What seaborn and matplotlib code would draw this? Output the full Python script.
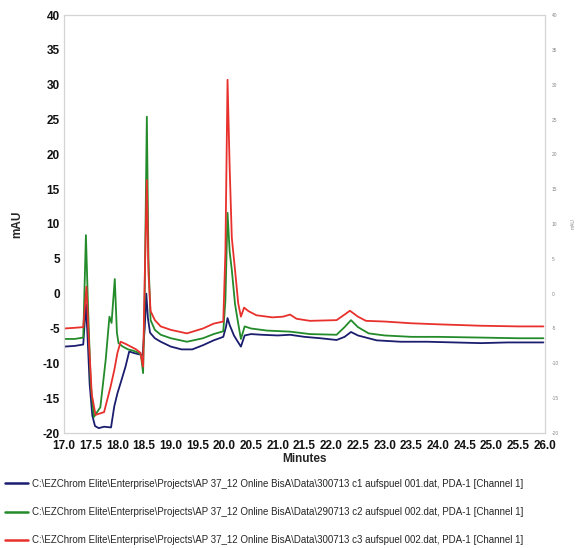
import numpy as np
import pandas as pd
import matplotlib
matplotlib.use('Agg')
import matplotlib.pyplot as plt
import seaborn as sns

# c1 (blue) trace
c1_t = [17.0, 17.2, 17.36, 17.41, 17.44, 17.48, 17.53, 17.58, 17.65, 17.75, 17.88, 17.94, 18.0, 18.06,
        18.15, 18.22, 18.3, 18.4, 18.47, 18.51, 18.54, 18.57, 18.61, 18.7, 18.81, 19.0, 19.2, 19.4,
        19.6, 19.8, 19.98, 20.03, 20.06, 20.1, 20.18, 20.26, 20.31, 20.38, 20.5, 20.7, 21.0, 21.23,
        21.5, 21.8, 22.1, 22.25, 22.37, 22.5, 22.85, 23.3, 23.8, 24.3, 24.8, 25.3, 25.97]
c1_v = [-7.6, -7.5, -7.3, -1.5, -6.0, -13.0, -17.5, -19.0, -19.3, -19.1, -19.2, -16.2, -14.3, -12.8,
        -10.5, -8.3, -8.5, -8.7, -8.8, -5.0, 0.0, -3.5, -5.6, -6.4, -6.9, -7.6, -8.0, -8.0,
        -7.4, -6.7, -6.2, -4.8, -3.5, -4.5, -6.0, -7.0, -7.6, -6.0, -5.8, -5.9, -6.0, -5.9,
        -6.2, -6.4, -6.65, -6.2, -5.5, -6.0, -6.7, -6.9, -6.9, -7.0, -7.1, -7.0, -7.0]

# c2 (green) trace
c2_t = [17.0, 17.2, 17.36, 17.41, 17.45, 17.5, 17.56, 17.68, 17.78, 17.85, 17.89, 17.95, 17.99,
        18.02, 18.1, 18.2, 18.3, 18.4, 18.44, 18.48, 18.51, 18.55, 18.58, 18.62, 18.7, 18.81, 19.0,
        19.3, 19.6, 19.8, 19.98, 20.02, 20.06, 20.1, 20.14, 20.2, 20.26, 20.31, 20.38, 20.5, 20.8,
        21.23, 21.6, 22.1, 22.25, 22.37, 22.5, 22.7, 23.0, 23.5, 24.0, 24.78, 25.5, 25.97]
c2_v = [-6.5, -6.5, -6.3, 8.4, -2.0, -13.0, -17.7, -16.3, -9.5, -3.3, -4.2, 2.1, -5.6,
        -7.1, -7.6, -8.0, -8.2, -8.5, -8.8, -11.4, 0.0, 25.4, 5.0, -3.8, -5.2, -5.9, -6.4,
        -6.9, -6.4, -5.8, -5.4, -1.0, 11.6, 6.0, 3.4, -1.5, -4.3, -6.5, -4.7, -5.0, -5.3,
        -5.45, -5.8, -5.9, -4.8, -3.8, -4.8, -5.7, -6.0, -6.2, -6.2, -6.3, -6.4, -6.4]

# c3 (red) trace
c3_t = [17.0, 17.2, 17.36, 17.42, 17.46, 17.52, 17.59, 17.75, 17.87, 17.94, 18.0, 18.06, 18.15,
        18.25, 18.35, 18.43, 18.48, 18.51, 18.55, 18.58, 18.62, 18.7, 18.81, 19.0, 19.3, 19.6,
        19.8, 19.98, 20.02, 20.06, 20.1, 20.14, 20.2, 20.26, 20.31, 20.37, 20.45, 20.6, 20.9,
        21.1, 21.23, 21.35, 21.6, 22.1, 22.25, 22.35, 22.5, 22.65, 23.0, 23.5, 24.0, 24.78,
        25.5, 25.97]
c3_v = [-5.0, -4.9, -4.8, 1.0, -6.0, -14.5, -17.4, -17.0, -13.4, -11.0, -8.5, -6.9, -7.2,
        -7.6, -8.0, -8.5, -10.5, 2.0, 16.3, 3.0, -2.5, -3.8, -4.7, -5.2, -5.7, -5.0,
        -4.3, -4.0, 6.0, 30.7, 18.0, 8.0, 3.4, -1.4, -3.3, -2.0, -2.5, -3.1, -3.4,
        -3.3, -3.0, -3.6, -3.9, -3.8, -3.0, -2.45, -3.3, -3.9, -4.0, -4.25, -4.4, -4.6,
        -4.7, -4.7]

labels = [
    r'C:\EZChrom Elite\Enterprise\Projects\AP 37_12 Online BisA\Data\300713 c1 aufspuel 001.dat, PDA-1 [Channel 1]',
    r'C:\EZChrom Elite\Enterprise\Projects\AP 37_12 Online BisA\Data\290713 c2 aufspuel 002.dat, PDA-1 [Channel 1]',
    r'C:\EZChrom Elite\Enterprise\Projects\AP 37_12 Online BisA\Data\300713 c3 aufspuel 002.dat, PDA-1 [Channel 1]',
]
colors = ['#1b1d6e', '#238b2a', '#e8302c']

x_ticks = [17.0, 17.5, 18.0, 18.5, 19.0, 19.5, 20.0, 20.5, 21.0, 21.5, 22.0,
           22.5, 23.0, 23.5, 24.0, 24.5, 25.0, 25.5, 26.0]
y_ticks = [-20, -15, -10, -5, 0, 5, 10, 15, 20, 25, 30, 35, 40]

sns.set_theme(style='white')
plt.rcParams['font.family'] = ['Liberation Sans', 'DejaVu Sans']

fig = plt.figure(figsize=(5.8, 5.48), dpi=100)
ax = fig.add_axes([64 / 580, 1 - 433 / 548, 481 / 580, 418 / 548])

traces = [(c1_t, c1_v), (c2_t, c2_v), (c3_t, c3_v)]
for (t, v), lab, col in zip(traces, labels, colors):
    df = pd.DataFrame({'Minutes': t, 'mAU': v})
    sns.lineplot(data=df, x='Minutes', y='mAU', color=col, lw=1.3, label=lab, ax=ax, sort=False)

ax.set_xlim(17, 26)
ax.set_ylim(-20, 40)
ax.set_xticks(x_ticks)
ax.set_xticklabels([f'{x:.1f}' for x in x_ticks], fontweight='bold', fontsize=8.5,
                   family=['Liberation Sans Narrow', 'Liberation Sans'])
ax.set_yticks(y_ticks)
ax.set_yticklabels([str(y) for y in y_ticks], fontweight='bold', fontsize=8.5)
ax.tick_params(axis='both', length=0, colors='#111111')
ax.tick_params(axis='x', pad=5)
ax.tick_params(axis='y', pad=3)
ax.set_xlabel('Minutes', fontweight='bold', fontsize=8.5, labelpad=1)
ax.set_ylabel('mAU', fontweight='bold', fontsize=8.5, labelpad=14)
for s in ax.spines.values():
    s.set_color('#d4d4d4')
    s.set_linewidth(0.8)

# small secondary axis on the right
ax2 = ax.twinx()
ax2.set_ylim(-20, 40)
ax2.set_yticks(y_ticks)
ax2.set_yticklabels([str(y) for y in y_ticks], fontsize=3.5, color='#888888')
ax2.tick_params(axis='y', length=0, pad=5)
ax2.set_ylabel('mAU', fontsize=3.5, color='#888888', labelpad=8)
for s in ax2.spines.values():
    s.set_color('#d4d4d4')
    s.set_linewidth(0.8)

handles, labs = ax.get_legend_handles_labels()
ax.get_legend().remove()
leg = fig.legend(handles, labs, loc='center left', bbox_to_anchor=(5 / 580, 1 - 512 / 548),
                 frameon=False, fontsize=7, handlelength=2.4, handletextpad=0.4,
                 labelspacing=1.9, borderpad=0, borderaxespad=0)
for h in leg.get_lines():
    h.set_linewidth(1.8)

fig.savefig('out.png', dpi=100)
